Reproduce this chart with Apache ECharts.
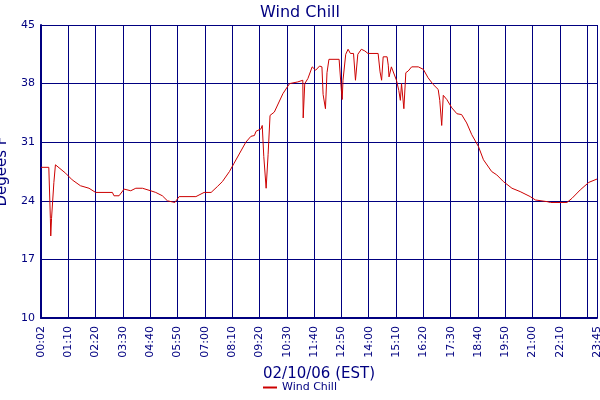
<!DOCTYPE html>
<html><head><meta charset="utf-8">
<script src="https://cdn.jsdelivr.net/npm/echarts@6/dist/echarts.min.js"></script>
<style>html,body{margin:0;padding:0;background:#fff}#c{width:600px;height:400px}</style>
</head><body><div id="c"></div>
<script>
// minutes after midnight
const minutes = [0,20,24,25,27,33,37,63,80,101,123,140,183,187,200,213,230,243,260,281,294,311,324,343,354,397,418,436,452,465,483,495,525,538,547,551,564,567,571,577,582,587,598,620,637,658,
671,672,676,684,695,704,714,720,723,729,733,738,764,768,770,772,774,781,787,793,801,806,812,821,830,838,864,869,873,877,887,890,892,898,911,917,921,924,928,930,935,941,950,967,980,992,1005,1018,1022,1027,1031,1040,1053,1066,1078,1091,1104,1121,1134,1155,1168,1185,1207,1228,1254,1267,1297,1306,1348,1361,1382,1404,1425];
const windChill = [28.0,28.0,21.9,19.8,21.9,26.2,28.3,27.3,26.5,25.8,25.5,25.0,25.0,24.6,24.6,25.4,25.2,25.5,25.5,25.2,25.0,24.6,24.0,23.8,24.5,24.5,25.0,25.0,25.7,26.3,27.5,28.5,31.0,31.7,31.8,32.3,32.6,33.0,29.3,25.5,29.5,34.2,34.6,36.8,38.0,38.2,
38.4,33.9,38.0,38.6,40.0,39.6,40.1,40.0,36.7,35.0,39.3,40.9,40.9,41.0,37.1,36.1,38.4,41.5,42.1,41.6,41.6,38.4,41.5,42.1,41.9,41.6,41.6,39.4,38.4,41.2,41.2,40.2,38.8,40.0,38.4,37.2,36.0,38.0,38.0,35.0,39.3,39.5,40.0,40.0,39.7,38.7,37.9,37.3,36.0,33.0,36.6,36.1,35.1,34.4,34.3,33.3,31.9,30.5,28.9,27.5,27.1,26.3,25.5,25.1,24.5,24.1,23.9,23.8,23.8,24.3,25.3,26.2,26.6];
const yTicks = {min:10, max:45, interval:7};
const navy = '#000080';
function fmt(v){ if(v===0) return '00:02'; const h=Math.floor(v/60), m=Math.round(v%60); return String(h).padStart(2,'0')+':'+String(m).padStart(2,'0'); }
const chart = echarts.init(document.getElementById('c'));
chart.setOption({
  animation:false,
  title:{text:'Wind Chill',left:'center',top:0,textStyle:{color:navy,fontSize:16,fontWeight:'normal',fontFamily:'DejaVu Sans'}},
  legend:{bottom:2,left:'center',itemWidth:14,itemHeight:2,icon:'rect',textStyle:{color:navy,fontSize:11,fontFamily:'DejaVu Sans'},data:['Wind Chill']},
  grid:{left:41,right:3,top:25,bottom:82,containLabel:false,outerBoundsMode:'none'},
  xAxis:{type:'value',min:0,max:1425,interval:70,name:'02/10/06 (EST)',nameLocation:'middle',nameGap:49,
    nameTextStyle:{color:navy,fontSize:15,fontFamily:'DejaVu Sans'},
    axisLine:{lineStyle:{color:navy,width:2}},axisTick:{show:false},
    axisLabel:{rotate:90,color:navy,fontSize:11,fontFamily:'DejaVu Sans',formatter:fmt,showMaxLabel:true,showMinLabel:true,hideOverlap:false,interval:0},
    splitLine:{show:true,lineStyle:{color:navy,width:1}}},
  yAxis:{type:'value',min:yTicks.min,max:yTicks.max,interval:yTicks.interval,name:'Degees F',nameLocation:'middle',nameGap:27,
    nameTextStyle:{color:navy,fontSize:15,fontFamily:'DejaVu Sans'},
    axisLine:{show:true,lineStyle:{color:navy,width:2}},axisTick:{show:false},
    axisLabel:{color:navy,fontSize:11,fontFamily:'DejaVu Sans',margin:6},
    splitLine:{show:true,lineStyle:{color:navy,width:1}}},
  series:[{name:'Wind Chill',type:'line',showSymbol:false,data:minutes.map((m,i)=>[m,windChill[i]]),
    lineStyle:{color:'#cc0000',width:1},itemStyle:{color:'#cc0000'}}]
});
</script></body></html>
